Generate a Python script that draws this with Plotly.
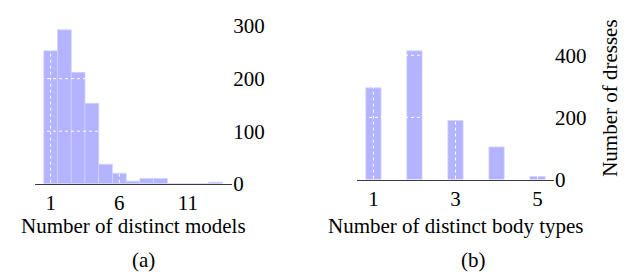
import plotly.graph_objects as go

# ---- data ----
models_x = [1, 2, 3, 4, 5, 6, 7, 8, 9, 10, 11, 12, 13]
models_counts = [253, 293, 212, 153, 37, 20, 5, 10, 10, 0, 0, 0, 3]
models_xticks = [1, 6, 11]
models_yticks = [0, 100, 200, 300]

body_x = [1, 2, 3, 4, 5]
body_counts = [295, 414, 190, 105, 10]
body_xticks = [1, 3, 5]
body_yticks = [0, 200, 400]

title_a = "Number of distinct models"
title_b = "Number of distinct body types"
ytitle_b = "Number of dresses"

W, H = 627, 277
FONT = "Liberation Serif"
BAR = "#b3b3ff"
BAR_EDGE = "#d2d2ff"

fig = go.Figure()
fig.add_trace(go.Bar(x=models_x, y=models_counts, width=1.0, xaxis="x", yaxis="y",
                     marker=dict(color=BAR, line=dict(color=BAR_EDGE, width=0.8)),
                     showlegend=False))
fig.add_trace(go.Bar(x=body_x, y=body_counts, width=0.37, xaxis="x2", yaxis="y2",
                     marker=dict(color=BAR, line=dict(color=BAR_EDGE, width=0.8)),
                     showlegend=False))

xr_a = [-0.14, 14.23]
yr_a = [0, 318]
xr_b = [0.6, 5.4]
yr_b = [0, 524]

tickfont = dict(family=FONT, size=21, color="black")
common_x = dict(showgrid=False, zeroline=False, showline=True, linecolor="#3a3a3a",
                linewidth=1.3, ticks="", tickfont=tickfont, layer="above traces",
                ticklabelstandoff=0)
common_y = dict(showgrid=False, zeroline=False, showline=False, ticks="", side="right",
                tickfont=tickfont, ticklabelstandoff=0)

fig.update_layout(
    width=W, height=H, autosize=False,
    margin=dict(l=0, r=0, t=0, b=0),
    paper_bgcolor="white", plot_bgcolor="white",
    xaxis=dict(domain=[27 / W, 224.3 / W], range=xr_a, tickvals=models_xticks,
               anchor="y", **common_x),
    yaxis=dict(domain=[1 - 183 / H, 1 - 7 / H], range=yr_a, tickvals=models_yticks,
               anchor="x", **common_y),
    xaxis2=dict(domain=[349 / W, 546 / W], range=xr_b, tickvals=body_xticks,
                anchor="y2", **common_x),
    yaxis2=dict(domain=[1 - 178.6 / H, 1 - 7 / H], range=yr_b, tickvals=body_yticks,
                anchor="x2", title=dict(text=ytitle_b, font=dict(family=FONT, size=21,
                color="black"), standoff=16), **common_y),
)

# white dotted grid lines drawn above the bars
grid = dict(color="white", width=1, dash="dot")
shapes = []
for v in models_yticks[1:]:
    shapes.append(dict(type="line", xref="x", yref="y", x0=xr_a[0], x1=xr_a[1], y0=v, y1=v,
                       line=grid, layer="above"))
for v in models_xticks:
    shapes.append(dict(type="line", xref="x", yref="y", x0=v, x1=v, y0=yr_a[0] + 2, y1=yr_a[1],
                       line=grid, layer="above"))
for v in body_yticks[1:]:
    shapes.append(dict(type="line", xref="x2", yref="y2", x0=xr_b[0], x1=xr_b[1], y0=v, y1=v,
                       line=grid, layer="above"))
for v in body_xticks:
    shapes.append(dict(type="line", xref="x2", yref="y2", x0=v, x1=v, y0=yr_b[0] + 3, y1=yr_b[1],
                       line=grid, layer="above"))
fig.update_layout(shapes=shapes)

tfont = dict(family=FONT, size=21, color="black")
ann = [
    dict(text=title_a, x=125.5 / W, y=1 - 227 / H),
    dict(text=title_b, x=447.5 / W, y=1 - 227 / H),
    dict(text="(a)", x=135.3 / W, y=1 - 263 / H),
    dict(text="(b)", x=465 / W, y=1 - 263 / H),
]
for a in ann:
    fig.add_annotation(xref="paper", yref="paper", showarrow=False, font=tfont,
                       xanchor="center", yanchor="middle", **a)

fig.write_html("out.html")
